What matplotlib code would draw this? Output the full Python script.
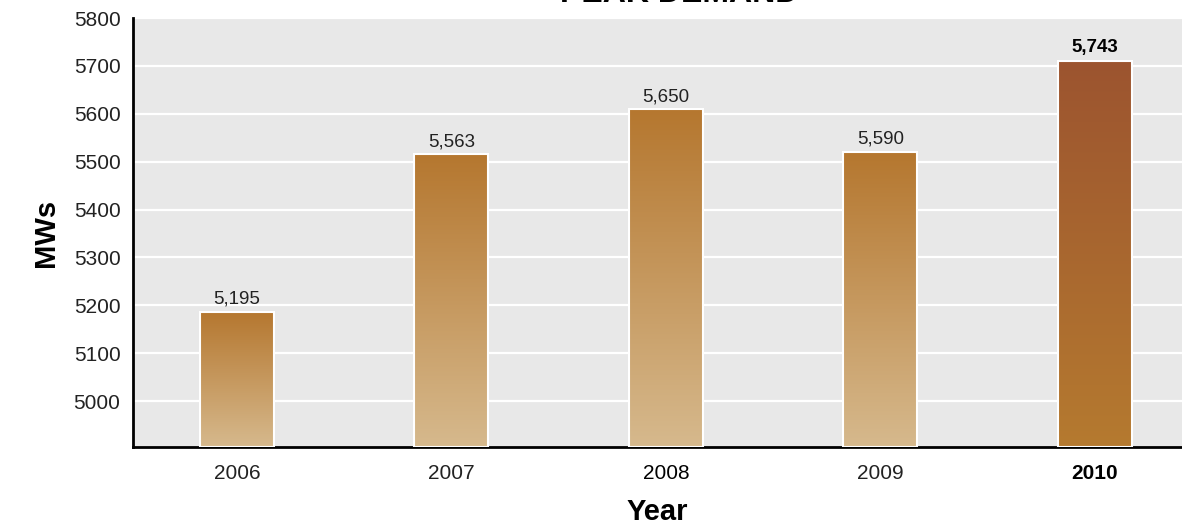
import matplotlib
matplotlib.use("Agg")
import matplotlib.pyplot as plt
import numpy as np
from matplotlib.colors import LinearSegmentedColormap

# ---- data ----
years = ["2006", "2007", "2008", "2009", "2010"]
bar_heights = [5186, 5515, 5609, 5520, 5711]   # heights as drawn in the reference
value_labels = ["5,195", "5,563", "5,650", "5,590", "5,743"]
yticks = [5000, 5100, 5200, 5300, 5400, 5500, 5600, 5700, 5800]

plt.rcParams['font.family'] = ['Liberation Sans', 'DejaVu Sans']

fig = plt.figure(figsize=(11.82, 5.25), dpi=100)
ax = fig.add_axes([133/1182, 78/525, 1 - 133/1182, (447-18)/525])
ax.set_facecolor("#e8e8e8")

ymin, ymax = 4904, 5800
ax.set_ylim(ymin, ymax)
ax.set_xlim(-0.485, 4.406)

ax.set_yticks(yticks)
ax.yaxis.grid(True, color="white", linewidth=1.6)
ax.set_axisbelow(True)

x = np.arange(len(years))
width = 0.345
bars = ax.bar(x, [h - ymin for h in bar_heights], bottom=ymin, width=width,
              color="none", edgecolor="white", linewidth=1.5, zorder=3)

cm_normal = LinearSegmentedColormap.from_list("n", ["#d6b98d", "#b5772f"])
cm_last = LinearSegmentedColormap.from_list("l", ["#b57a30", "#9c542f"])
grad = np.linspace(0, 1, 256).reshape(-1, 1)
for i, b in enumerate(bars):
    cmap = cm_last if i == len(bars) - 1 else cm_normal
    x0, y0 = b.get_x(), b.get_y()
    w, h = b.get_width(), b.get_height()
    im = ax.imshow(grad, cmap=cmap, origin="lower", aspect="auto",
                   extent=[x0, x0 + w, y0, y0 + h], zorder=2.5)
    im.set_clip_path(b)

for i, (xi, h, lab) in enumerate(zip(x, bar_heights, value_labels)):
    last = i == len(x) - 1
    ax.annotate(lab, (xi, h), xytext=(0, 3), textcoords="offset points",
                ha="center", va="bottom", fontsize=13.5,
                fontweight="bold" if last else "normal",
                color="black" if last else "#222222")

ax.set_xticks(x)
ax.set_xticklabels(years)
for i, t in enumerate(ax.get_xticklabels()):
    if i == len(years) - 1:
        t.set_fontweight("bold")
        t.set_color("black")
    elif i == 2:
        t.set_color("black")
    else:
        t.set_color("#222222")
ax.tick_params(axis="x", length=0, pad=12, labelsize=15)
ax.tick_params(axis="y", length=0, pad=9, labelsize=15, labelcolor="#222222")

for s in ["top", "right"]:
    ax.spines[s].set_visible(False)
for s in ["left", "bottom"]:
    ax.spines[s].set_color("black")
    ax.spines[s].set_linewidth(2)

ax.set_xlabel("Year", fontsize=21, fontweight="bold", labelpad=11)
ax.set_ylabel("MWs", fontsize=21, fontweight="bold", labelpad=10)

fig.text(0.575, 1 - 2/525, "PEAK DEMAND", ha="center", va="baseline",
         fontsize=23, fontweight="bold")

fig.savefig("out.png", dpi=100)
